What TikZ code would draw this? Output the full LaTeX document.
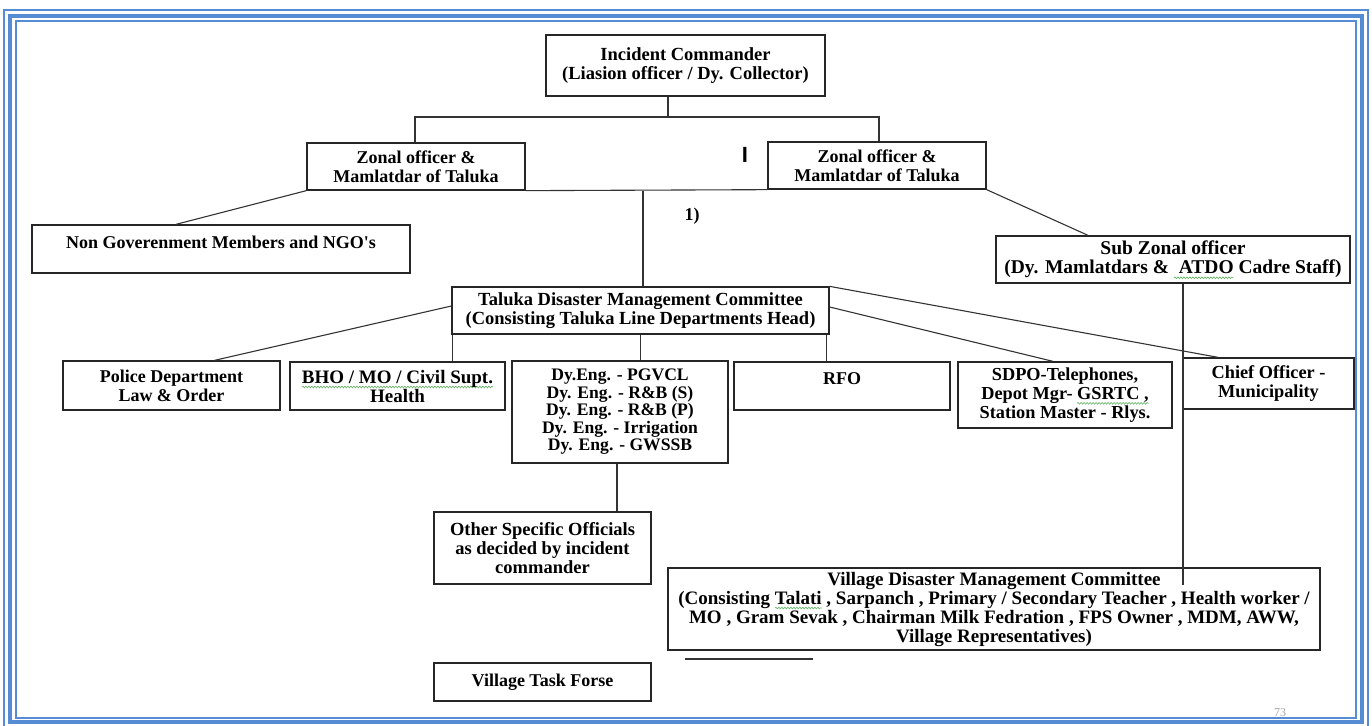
\documentclass[tikz,border=0pt]{standalone}
\usepackage{fontspec}
\setmainfont{Liberation Serif}
\setsansfont{Liberation Sans}
\usetikzlibrary{calc,decorations.pathmorphing}
\definecolor{frameblue}{RGB}{86,140,212}
\definecolor{squiggle}{RGB}{96,178,96}
% wavy spell-check mark under a word
\newsavebox{\spellbox}
\newlength{\spellwd}
\newcommand{\spellmark}[1]{\sbox{\spellbox}{#1}\setlength{\spellwd}{\wd\spellbox}%
  \begin{tikzpicture}[overlay, x=1pt, y=1pt, baseline=0pt]
    \draw[squiggle, line width=0.6pt, decorate, decoration={snake, amplitude=0.9pt, segment length=3pt}] (0,-4) -- (\spellwd,-4);
  \end{tikzpicture}\usebox{\spellbox}}
\tikzset{
  unit/.style={draw=black!85, line width=1.3pt, align=center, inner sep=0pt,
    font=\bfseries\fontsize{18}{19}\selectfont},
  fsize/.style={font=\bfseries\fontsize{#1}{19}\selectfont},
  topunit/.style={unit, text depth=14pt},
  link/.style={draw=black!80, line width=1.1pt},
}
\begin{document}
\begin{tikzpicture}[x=1pt, y=-1pt]
    \useasboundingbox (0,0) rectangle (1372,725);

    % Page frame
    \draw[frameblue, line width=2pt] (4,10) rectangle (1368,728);
    \draw[frameblue, line width=4pt] (10,16) rectangle (1362,722);
    \draw[frameblue, line width=2pt] (16,21) rectangle (1356,718);

    % Command level
    \node[unit, fsize=18.5, minimum width=279, minimum height=61] (ic) at (685.5,65.5) {Incident Commander\\(Liasion officer / Dy. Collector)};
    \node[unit, minimum width=218, minimum height=47] (zonalL) at (416,166.5) {Zonal officer \&\\Mamlatdar of Taluka};
    \node[unit, minimum width=218, minimum height=47] (zonalR) at (877,165.5) {Zonal officer \&\\Mamlatdar of Taluka};
    \node[topunit, minimum width=378, minimum height=48] (ngo) at (221,249) {Non Goverenment Members and NGO\textquotesingle s};
    \node[unit, fsize=19.5, minimum width=354, minimum height=47] (subzonal) at (1173,259.5) {Sub Zonal officer\\(Dy. Mamlatdars \&\ \spellmark{\ ATDO} Cadre Staff)};
    \node[unit, fsize=18.5, minimum width=377, minimum height=47] (tdmc) at (640.5,310.5) {Taluka Disaster Management Committee\\(Consisting Taluka Line Departments Head)};

    % Line departments
    \node[unit, minimum width=217, minimum height=49] (police) at (171.5,385.5) {Police Department\\Law \& Order};
    \node[unit, fsize=19, minimum width=215, minimum height=48] (bho) at (397.5,386) {\spellmark{BHO / MO / Civil Supt.}\\Health};
    \node[unit, font=\bfseries\fontsize{17.6}{17.5}\selectfont, minimum width=216, minimum height=102] (deng) at (620,412) {Dy.Eng. - PGVCL\\Dy. Eng. - R\&B (S)\\Dy. Eng. - R\&B (P)\\Dy. Eng. - Irrigation\\Dy. Eng. - GWSSB};
    \node[topunit, minimum width=216, minimum height=48] (rfo) at (842,386) {RFO};
    \node[unit, fsize=18.3, minimum width=214, minimum height=66] (sdpo) at (1065,395) {SDPO-Telephones,\\Depot Mgr- \spellmark{GSRTC ,}\\Station Master - Rlys.};
    \node[unit, fsize=18.3, minimum width=171, minimum height=51] (chief) at (1268.5,383.5) {Chief Officer -\\Municipality};

    % Village level
    \node[unit, fsize=18.5, minimum width=217, minimum height=72] (other) at (542.5,548) {Other Specific Officials\\as decided by incident\\commander};
    \node[unit, fsize=19, minimum width=652, minimum height=82] (vdmc) at (994,609) {Village Disaster Management Committee\\(Consisting \spellmark{Talati} , Sarpanch , Primary / Secondary Teacher , Health worker /\\MO , Gram Sevak , Chairman Milk Fedration , FPS Owner , MDM, AWW,\\Village Representatives)};
    \node[unit, minimum width=217, minimum height=38] (taskforce) at (542.5,682) {Village Task Forse};

    % Loose marks
    \node[font=\bfseries\fontsize{18}{19}\selectfont] (num) at (692,216) {1)};
    \node[font=\sffamily\bfseries\fontsize{22}{24}\selectfont] (bar) at (745,155) {I};
    \node[gray!70, font=\fontsize{12}{14}\selectfont] (page) at (1280,713) {73};
    \coordinate (stubA) at (685,659);
    \coordinate (stubB) at (813,659);

    % Connectors
    \coordinate (bus) at (668,117);
    \draw[link] ([xshift=-17.5pt]ic.south) -- (bus);
    \draw[link] ([xshift=-1pt]zonalL.north) |- (bus) -| ([xshift=2pt]zonalR.north);
    \draw[link] (zonalL.south east) -- (zonalR.south west);
    \draw[link] ([xshift=2.5pt]tdmc.north) -- ($(tdmc.north |- zonalL.south)+(2.5,0)$);
    \draw[link] (zonalL.south west) -- ([xshift=-45pt]ngo.north);
    \draw[link] (zonalR.south east) -- ([xshift=-85pt]subzonal.north);
    \draw[link] ([xshift=10pt]subzonal.south) -- ($(subzonal.south |- vdmc.north)+(10,18)$);

    \draw[link] ([yshift=4.5pt]tdmc.west) -- ([xshift=43pt]police.north);
    \draw[link] ([xshift=1.5pt]tdmc.south west) -- ($(tdmc.south west |- bho.north)+(1.5,0)$);
    \draw[link] (tdmc.south) -- (tdmc.south |- deng.north);
    \draw[link] ([xshift=-3pt]tdmc.south east) -- ($(tdmc.south east |- rfo.north)+(-3,0)$);
    \draw[link] ([yshift=3.5pt]tdmc.east) -- ([xshift=-12pt]sdpo.north);
    \draw[link] (tdmc.north east) -- ([xshift=-50.5pt]chief.north);

    \draw[link] ([xshift=-3pt]deng.south) -- ($(deng.south |- other.north)+(-3,0)$);
    \draw[link] (stubA) -- (stubB);
\end{tikzpicture}
\end{document}
